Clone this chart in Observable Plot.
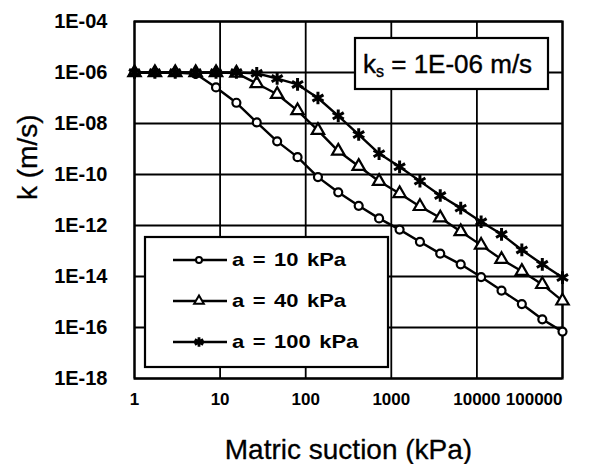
<!DOCTYPE html>
<html><head><meta charset="utf-8">
<script src="https://cdn.jsdelivr.net/npm/d3@7"></script>
<script src="https://cdn.jsdelivr.net/npm/@observablehq/plot@0.6"></script>
<style>
body{margin:0;background:#fff;}
#wrap{width:604px;height:464px;}
</style></head><body><div id="wrap"></div>
<script>
// Matric suction (kPa) at each marker
const suction = [1, 1.73, 2.99, 5.18, 8.96, 15.5, 26.8, 46.4, 80.3, 139, 240, 416, 720, 1250, 2160, 3730, 6470, 11200, 19400, 33500, 58100, 100000];
// k (m/s) for each air-entry value a
const k_a10 = [1e-6, 1e-6, 1e-6, 8.9e-7, 2.6e-7, 6.5e-8, 1.1e-8, 2.0e-9, 4.8e-10, 7.9e-11, 2.0e-11, 5.9e-12, 1.9e-12, 6.9e-13, 2.3e-13, 7.9e-14, 3.0e-14, 9.5e-15, 2.8e-15, 8.3e-16, 2.1e-16, 6.9e-17];
const k_a40 = [1e-6, 1e-6, 1e-6, 1e-6, 1e-6, 9.5e-7, 3.7e-7, 1.4e-7, 3.2e-8, 5.4e-9, 8.3e-10, 2.1e-10, 5.4e-11, 1.8e-11, 5.6e-12, 2.0e-12, 5.8e-13, 1.7e-13, 4.7e-14, 1.6e-14, 4.9e-15, 1.1e-15];
const k_a100 = [1e-6, 1e-6, 1e-6, 1e-6, 1e-6, 1e-6, 9.3e-7, 5.8e-7, 3.4e-7, 1.0e-7, 2.0e-8, 3.7e-9, 6.6e-10, 2.0e-10, 5.5e-11, 1.5e-11, 4.8e-12, 1.4e-12, 4.5e-13, 1.1e-13, 3.0e-14, 9.1e-15];
const seriesNames = ["a = 10 kPa", "a = 40 kPa", "a = 100 kPa"];
const seriesK = [k_a10, k_a40, k_a100];
const xTicks = [1, 10, 100, 1000, 10000, 100000];
const yTicks = [1e-4, 1e-6, 1e-8, 1e-10, 1e-12, 1e-14, 1e-16, 1e-18];
const xTitle = "Matric suction (kPa)";
const yTitle = "k (m/s)";

const symbols = ["circle", "triangle", "asterisk"];
const radii = [4, 4.6, 6];
const legendRadii = [3, 3.6, 4.6];

const data = [];
seriesNames.forEach((name, j) => {
  suction.forEach((s, i) => data.push({s, k: seriesK[j][i], a: name}));
});

const fmtY = d => {
  const e = Math.round(Math.log10(d));
  const m = Math.abs(e);
  return "1E" + (e < 0 ? "-" : "+") + (m < 10 ? "0" : "") + m;
};

const font = "'Liberation Sans', Arial, Helvetica, sans-serif";

const plot = Plot.plot({
  width: 604, height: 464,
  marginLeft: 134, marginRight: 42, marginTop: 21, marginBottom: 86,
  style: {fontFamily: font, background: "white", color: "black"},
  x: {type: "log", domain: [1, 100000]},
  y: {type: "log", domain: [1e-18, 1e-4]},
  marks: [
    Plot.ruleX(xTicks, {stroke: "black", strokeWidth: 1.8}),
    Plot.ruleY(yTicks, {stroke: "black", strokeWidth: 1.8}),
    Plot.frame({stroke: "black", strokeWidth: 2.2}),
    Plot.line(data, {x: "s", y: "k", z: "a", stroke: "black", strokeWidth: 2.4}),
    ...seriesNames.map((name, j) => Plot.dot(data.filter(d => d.a === name), {
      x: "s", y: "k", symbol: symbols[j], r: radii[j],
      fill: j === 2 ? "none" : "white", stroke: "black", strokeWidth: j === 2 ? 3 : 2.2
    })),
    Plot.axisX(xTicks.slice(0, 5), {tickSize: 0, tickPadding: 14, tickFormat: d => String(d), fontSize: 17, fontWeight: "bold", label: null}),
    Plot.axisX([100000], {tickSize: 0, tickPadding: 14, tickFormat: d => String(d), fontSize: 17, fontWeight: "bold", textAnchor: "end", label: null}),
    Plot.axisY(yTicks, {tickSize: 0, tickPadding: 27, tickFormat: fmtY, fontSize: 20, fontWeight: "bold", label: null}),
    Plot.text([xTitle], {frameAnchor: "bottom", dy: 80, fontSize: 28, fill: "black", stroke: "black", strokeWidth: 0.3}),
    Plot.text([yTitle], {frameAnchor: "left", dx: -106, dy: 0, rotate: -90, fontSize: 28, fill: "black", stroke: "black", strokeWidth: 0.3})
  ]
});

// legend and annotation boxes
const svg = d3.select(plot);
const lg = svg.append("g").attr("font-family", font).attr("text-anchor", "start");
lg.append("rect").attr("x", 145).attr("y", 237).attr("width", 243).attr("height", 130)
  .attr("fill", "white").attr("stroke", "black").attr("stroke-width", 2.2);
const rowY = [260, 301, 342];
seriesNames.forEach((name, j) => {
  const y = rowY[j];
  lg.append("line").attr("x1", 173).attr("x2", 227).attr("y1", y).attr("y2", y)
    .attr("stroke", "black").attr("stroke-width", 2.4);
  lg.append("path")
    .attr("d", d3.symbol(j === 0 ? d3.symbolCircle : j === 1 ? d3.symbolTriangle : d3.symbolAsterisk, legendRadii[j] * legendRadii[j] * Math.PI)())
    .attr("transform", `translate(199,${y})`)
    .attr("fill", j === 2 ? "none" : "white").attr("stroke", "black").attr("stroke-width", j === 2 ? 2.8 : 2);
  lg.append("text").attr("transform", `translate(232,${y}) scale(1.22,1)`).attr("dy", "0.36em").attr("text-anchor", "start")
    .attr("font-size", 18).attr("font-weight", "bold").attr("word-spacing", "2px")
    .attr("fill", "black").text(name);
});

const kb = svg.append("g").attr("font-family", font).attr("text-anchor", "start");
kb.append("rect").attr("x", 355).attr("y", 38).attr("width", 193).attr("height", 51)
  .attr("fill", "white").attr("stroke", "black").attr("stroke-width", 2.2);
const kt = kb.append("text").attr("x", 363).attr("y", 73).attr("font-size", 26).attr("fill", "black")
  .attr("stroke", "black").attr("stroke-width", 0.4).attr("text-anchor", "start");
kt.append("tspan").text("k");
kt.append("tspan").attr("font-size", 16).attr("dy", 4).text("s");
kt.append("tspan").attr("dy", -4).text(" = 1E-06 m/s");

document.getElementById("wrap").appendChild(plot);
</script>
</body></html>
